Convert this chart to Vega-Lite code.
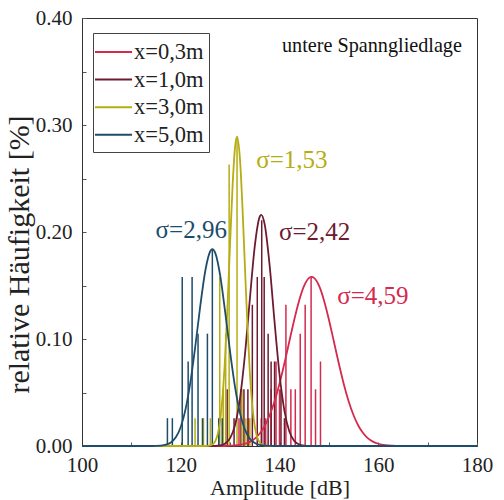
{
  "$schema": "https://vega.github.io/schema/vega-lite/v6.json",
  "width": 395,
  "height": 428,
  "autosize": "none",
  "padding": {"left": 82, "top": 18, "right": 27, "bottom": 54},
  "config": {
    "font": "Liberation Serif",
    "view": {"stroke": "#333", "strokeWidth": 1},
    "axis": {
      "grid": false,
      "domainColor": "#333",
      "tickColor": "#555",
      "labelFont": "Liberation Serif",
      "titleFont": "Liberation Serif",
      "labelFontSize": 21,
      "titleFontSize": 22,
      "titleFontWeight": "normal",
      "labelColor": "#222",
      "titleColor": "#222"
    },
    "legend": {"labelFont": "Liberation Serif"}
  },
  "datasets": {
    "bars": [
      {"s": "x=0,3m", "a": 131.8, "f": 0.026},
      {"s": "x=0,3m", "a": 133.8, "f": 0.026},
      {"s": "x=0,3m", "a": 136.3, "f": 0.026},
      {"s": "x=0,3m", "a": 137.2, "f": 0.026},
      {"s": "x=0,3m", "a": 138.3, "f": 0.053},
      {"s": "x=0,3m", "a": 139.3, "f": 0.079},
      {"s": "x=0,3m", "a": 140.0, "f": 0.053},
      {"s": "x=0,3m", "a": 141.3, "f": 0.132},
      {"s": "x=0,3m", "a": 142.3, "f": 0.053},
      {"s": "x=0,3m", "a": 143.2, "f": 0.053},
      {"s": "x=0,3m", "a": 144.2, "f": 0.105},
      {"s": "x=0,3m", "a": 145.2, "f": 0.132},
      {"s": "x=0,3m", "a": 146.4, "f": 0.158},
      {"s": "x=0,3m", "a": 147.3, "f": 0.053},
      {"s": "x=0,3m", "a": 148.3, "f": 0.079},
      {"s": "x=1,0m", "a": 129.4, "f": 0.053},
      {"s": "x=1,0m", "a": 130.8, "f": 0.026},
      {"s": "x=1,0m", "a": 132.2, "f": 0.053},
      {"s": "x=1,0m", "a": 132.8, "f": 0.053},
      {"s": "x=1,0m", "a": 133.6, "f": 0.053},
      {"s": "x=1,0m", "a": 134.5, "f": 0.132},
      {"s": "x=1,0m", "a": 135.5, "f": 0.158},
      {"s": "x=1,0m", "a": 136.4, "f": 0.211},
      {"s": "x=1,0m", "a": 136.9, "f": 0.158},
      {"s": "x=1,0m", "a": 137.7, "f": 0.105},
      {"s": "x=1,0m", "a": 138.3, "f": 0.079},
      {"s": "x=1,0m", "a": 139.0, "f": 0.079},
      {"s": "x=1,0m", "a": 140.3, "f": 0.053},
      {"s": "x=1,0m", "a": 141.0, "f": 0.026},
      {"s": "x=3,0m", "a": 122.9, "f": 0.026},
      {"s": "x=3,0m", "a": 124.6, "f": 0.026},
      {"s": "x=3,0m", "a": 126.0, "f": 0.026},
      {"s": "x=3,0m", "a": 127.9, "f": 0.158},
      {"s": "x=3,0m", "a": 128.6, "f": 0.053},
      {"s": "x=3,0m", "a": 129.1, "f": 0.105},
      {"s": "x=3,0m", "a": 129.8, "f": 0.263},
      {"s": "x=3,0m", "a": 131.4, "f": 0.289},
      {"s": "x=3,0m", "a": 132.4, "f": 0.053},
      {"s": "x=3,0m", "a": 133.2, "f": 0.026},
      {"s": "x=3,0m", "a": 134.0, "f": 0.026},
      {"s": "x=5,0m", "a": 117.3, "f": 0.026},
      {"s": "x=5,0m", "a": 118.3, "f": 0.026},
      {"s": "x=5,0m", "a": 120.3, "f": 0.158},
      {"s": "x=5,0m", "a": 121.5, "f": 0.079},
      {"s": "x=5,0m", "a": 122.3, "f": 0.158},
      {"s": "x=5,0m", "a": 123.5, "f": 0.105},
      {"s": "x=5,0m", "a": 124.4, "f": 0.026},
      {"s": "x=5,0m", "a": 125.4, "f": 0.105},
      {"s": "x=5,0m", "a": 126.4, "f": 0.184},
      {"s": "x=5,0m", "a": 127.7, "f": 0.026},
      {"s": "x=5,0m", "a": 128.4, "f": 0.026}
    ],
    "curves": [
      {"s": "x=0,3m", "a": 100, "f": 0},
      {"s": "x=0,3m", "a": 128, "f": 0},
      {"s": "x=0,3m", "a": 130, "f": 0.0003},
      {"s": "x=0,3m", "a": 131, "f": 0.0005},
      {"s": "x=0,3m", "a": 132, "f": 0.0011},
      {"s": "x=0,3m", "a": 133, "f": 0.0021},
      {"s": "x=0,3m", "a": 134, "f": 0.0039},
      {"s": "x=0,3m", "a": 135, "f": 0.0069},
      {"s": "x=0,3m", "a": 136, "f": 0.0117},
      {"s": "x=0,3m", "a": 137, "f": 0.0187},
      {"s": "x=0,3m", "a": 138, "f": 0.0287},
      {"s": "x=0,3m", "a": 139, "f": 0.0418},
      {"s": "x=0,3m", "a": 140, "f": 0.0582},
      {"s": "x=0,3m", "a": 141, "f": 0.0773},
      {"s": "x=0,3m", "a": 142, "f": 0.0979},
      {"s": "x=0,3m", "a": 143, "f": 0.1183},
      {"s": "x=0,3m", "a": 144, "f": 0.1363},
      {"s": "x=0,3m", "a": 145, "f": 0.1498},
      {"s": "x=0,3m", "a": 146, "f": 0.1571},
      {"s": "x=0,3m", "a": 146.5, "f": 0.158},
      {"s": "x=0,3m", "a": 147, "f": 0.1571},
      {"s": "x=0,3m", "a": 148, "f": 0.1498},
      {"s": "x=0,3m", "a": 149, "f": 0.1363},
      {"s": "x=0,3m", "a": 150, "f": 0.1183},
      {"s": "x=0,3m", "a": 151, "f": 0.0979},
      {"s": "x=0,3m", "a": 152, "f": 0.0773},
      {"s": "x=0,3m", "a": 153, "f": 0.0582},
      {"s": "x=0,3m", "a": 154, "f": 0.0418},
      {"s": "x=0,3m", "a": 155, "f": 0.0287},
      {"s": "x=0,3m", "a": 156, "f": 0.0187},
      {"s": "x=0,3m", "a": 157, "f": 0.0117},
      {"s": "x=0,3m", "a": 158, "f": 0.0069},
      {"s": "x=0,3m", "a": 159, "f": 0.0039},
      {"s": "x=0,3m", "a": 160, "f": 0.0021},
      {"s": "x=0,3m", "a": 161, "f": 0.0011},
      {"s": "x=0,3m", "a": 162, "f": 0.0005},
      {"s": "x=0,3m", "a": 163, "f": 0.0003},
      {"s": "x=0,3m", "a": 165, "f": 0},
      {"s": "x=0,3m", "a": 180, "f": 0},
      {"s": "x=1,0m", "a": 100, "f": 0},
      {"s": "x=1,0m", "a": 126, "f": 0},
      {"s": "x=1,0m", "a": 127, "f": 0.0001},
      {"s": "x=1,0m", "a": 128, "f": 0.0006},
      {"s": "x=1,0m", "a": 129, "f": 0.0023},
      {"s": "x=1,0m", "a": 130, "f": 0.0073},
      {"s": "x=1,0m", "a": 131, "f": 0.0196},
      {"s": "x=1,0m", "a": 132, "f": 0.0446},
      {"s": "x=1,0m", "a": 133, "f": 0.0853},
      {"s": "x=1,0m", "a": 134, "f": 0.1375},
      {"s": "x=1,0m", "a": 135, "f": 0.187},
      {"s": "x=1,0m", "a": 136, "f": 0.2143},
      {"s": "x=1,0m", "a": 136.3, "f": 0.216},
      {"s": "x=1,0m", "a": 137, "f": 0.2071},
      {"s": "x=1,0m", "a": 138, "f": 0.1688},
      {"s": "x=1,0m", "a": 139, "f": 0.1159},
      {"s": "x=1,0m", "a": 140, "f": 0.0671},
      {"s": "x=1,0m", "a": 141, "f": 0.0328},
      {"s": "x=1,0m", "a": 142, "f": 0.0135},
      {"s": "x=1,0m", "a": 143, "f": 0.0047},
      {"s": "x=1,0m", "a": 144, "f": 0.0014},
      {"s": "x=1,0m", "a": 145, "f": 0.0003},
      {"s": "x=1,0m", "a": 146, "f": 0},
      {"s": "x=1,0m", "a": 180, "f": 0},
      {"s": "x=3,0m", "a": 100, "f": 0},
      {"s": "x=3,0m", "a": 125, "f": 0},
      {"s": "x=3,0m", "a": 126, "f": 0.0006},
      {"s": "x=3,0m", "a": 126.5, "f": 0.0017},
      {"s": "x=3,0m", "a": 127, "f": 0.0046},
      {"s": "x=3,0m", "a": 127.5, "f": 0.0112},
      {"s": "x=3,0m", "a": 128, "f": 0.0245},
      {"s": "x=3,0m", "a": 128.5, "f": 0.048},
      {"s": "x=3,0m", "a": 129, "f": 0.0845},
      {"s": "x=3,0m", "a": 129.5, "f": 0.1337},
      {"s": "x=3,0m", "a": 130, "f": 0.1902},
      {"s": "x=3,0m", "a": 130.5, "f": 0.2431},
      {"s": "x=3,0m", "a": 131, "f": 0.2793},
      {"s": "x=3,0m", "a": 131.4, "f": 0.289},
      {"s": "x=3,0m", "a": 132, "f": 0.2676},
      {"s": "x=3,0m", "a": 132.5, "f": 0.2232},
      {"s": "x=3,0m", "a": 133, "f": 0.1673},
      {"s": "x=3,0m", "a": 133.5, "f": 0.1127},
      {"s": "x=3,0m", "a": 134, "f": 0.0682},
      {"s": "x=3,0m", "a": 134.5, "f": 0.0371},
      {"s": "x=3,0m", "a": 135, "f": 0.0181},
      {"s": "x=3,0m", "a": 135.5, "f": 0.008},
      {"s": "x=3,0m", "a": 136, "f": 0.0032},
      {"s": "x=3,0m", "a": 136.5, "f": 0.0011},
      {"s": "x=3,0m", "a": 137, "f": 0.0004},
      {"s": "x=3,0m", "a": 138, "f": 0},
      {"s": "x=3,0m", "a": 180, "f": 0},
      {"s": "x=5,0m", "a": 100, "f": 0},
      {"s": "x=5,0m", "a": 114, "f": 0},
      {"s": "x=5,0m", "a": 116, "f": 0.0004},
      {"s": "x=5,0m", "a": 117, "f": 0.0012},
      {"s": "x=5,0m", "a": 118, "f": 0.0033},
      {"s": "x=5,0m", "a": 119, "f": 0.0081},
      {"s": "x=5,0m", "a": 120, "f": 0.0178},
      {"s": "x=5,0m", "a": 121, "f": 0.0349},
      {"s": "x=5,0m", "a": 122, "f": 0.061},
      {"s": "x=5,0m", "a": 123, "f": 0.0951},
      {"s": "x=5,0m", "a": 124, "f": 0.1325},
      {"s": "x=5,0m", "a": 125, "f": 0.1645},
      {"s": "x=5,0m", "a": 126, "f": 0.1823},
      {"s": "x=5,0m", "a": 126.4, "f": 0.184},
      {"s": "x=5,0m", "a": 127, "f": 0.1803},
      {"s": "x=5,0m", "a": 128, "f": 0.159},
      {"s": "x=5,0m", "a": 129, "f": 0.1251},
      {"s": "x=5,0m", "a": 130, "f": 0.0878},
      {"s": "x=5,0m", "a": 131, "f": 0.055},
      {"s": "x=5,0m", "a": 132, "f": 0.0307},
      {"s": "x=5,0m", "a": 133, "f": 0.0153},
      {"s": "x=5,0m", "a": 134, "f": 0.0068},
      {"s": "x=5,0m", "a": 135, "f": 0.0027},
      {"s": "x=5,0m", "a": 136, "f": 0.001},
      {"s": "x=5,0m", "a": 137, "f": 0.0003},
      {"s": "x=5,0m", "a": 139, "f": 0},
      {"s": "x=5,0m", "a": 180, "f": 0}
    ],
    "labels": [
      {"s": "x=0,3m", "a": 151.7, "f": 0.140, "t": "σ=4,59"},
      {"s": "x=1,0m", "a": 139.9, "f": 0.200, "t": "σ=2,42"},
      {"s": "x=3,0m", "a": 135.3, "f": 0.267, "t": "σ=1,53"},
      {"s": "x=5,0m", "a": 114.9, "f": 0.202, "t": "σ=2,96"}
    ],
    "note": [
      {"a": 140.5, "f": 0.374, "t": "untere Spanngliedlage"}
    ]
  },
  "layer": [
    {
      "data": {"name": "bars"},
      "mark": {"type": "rule", "strokeWidth": 1.5},
      "encoding": {
        "x": {
          "field": "a", "type": "quantitative",
          "scale": {"domain": [100, 180], "nice": false, "zero": false},
          "axis": {
            "title": "Amplitude [dB]",
            "values": [100, 110, 120, 130, 140, 150, 160, 170, 180],
            "labelExpr": "datum.value % 20 === 0 ? datum.label : ''",
            "format": "d",
            "tickSize": -4,
            "labelPadding": 12,
            "titlePadding": 2,
            "labelFlush": false,
            "labelOverlap": false
          }
        },
        "y": {
          "field": "f", "type": "quantitative",
          "scale": {"domain": [0, 0.4], "nice": false},
          "axis": {
            "title": "relative Häufigkeit [%]",
            "titleFontSize": 30,
            "titleX": -48,
            "titleY": 236,
            "titleBaseline": "bottom",
            "titleAngle": -90,
            "values": [0, 0.05, 0.1, 0.15, 0.2, 0.25, 0.3, 0.35, 0.4],
            "labelExpr": "round(datum.value * 100) % 10 === 0 ? format(datum.value, '.2f') : ''",
            "tickSize": -4,
            "labelPadding": 14,
            "labelFlush": false,
            "labelOverlap": false
          }
        },
        "y2": {"datum": 0},
        "color": {
          "field": "s", "type": "nominal",
          "scale": {"domain": ["x=0,3m", "x=1,0m", "x=3,0m", "x=5,0m"], "range": ["#d42a4e", "#6e1b31", "#b5ad12", "#1d4d6b"]},
          "legend": {
            "orient": "none",
            "legendX": 11,
            "legendY": 15,
            "title": null,
            "symbolType": "M-1.31,0H1.54",
            "symbolSize": 676,
            "symbolStrokeWidth": 2,
            "labelFontSize": 22.5,
            "labelColor": "#222",
            "labelOffset": 8,
            "labelExpr": "datum.label + '\u2002\u2009'",
            "strokeColor": "#444",
            "padding": 5,
            "rowPadding": 1.6
          }
        }
      }
    },
    {
      "data": {"name": "curves"},
      "mark": {"type": "line", "strokeWidth": 1.8, "interpolate": "monotone"},
      "encoding": {
        "x": {"field": "a", "type": "quantitative"},
        "y": {"field": "f", "type": "quantitative"},
        "color": {"field": "s", "type": "nominal"}
      }
    },
    {
      "data": {"name": "labels"},
      "mark": {"type": "text", "align": "left", "baseline": "middle", "fontSize": 25},
      "encoding": {
        "x": {"field": "a", "type": "quantitative"},
        "y": {"field": "f", "type": "quantitative"},
        "text": {"field": "t"},
        "color": {"field": "s", "type": "nominal"}
      }
    },
    {
      "data": {"name": "note"},
      "mark": {"type": "text", "align": "left", "baseline": "middle", "fontSize": 20.2, "color": "#111"},
      "encoding": {
        "x": {"field": "a", "type": "quantitative"},
        "y": {"field": "f", "type": "quantitative"},
        "text": {"field": "t"}
      }
    }
  ]
}
